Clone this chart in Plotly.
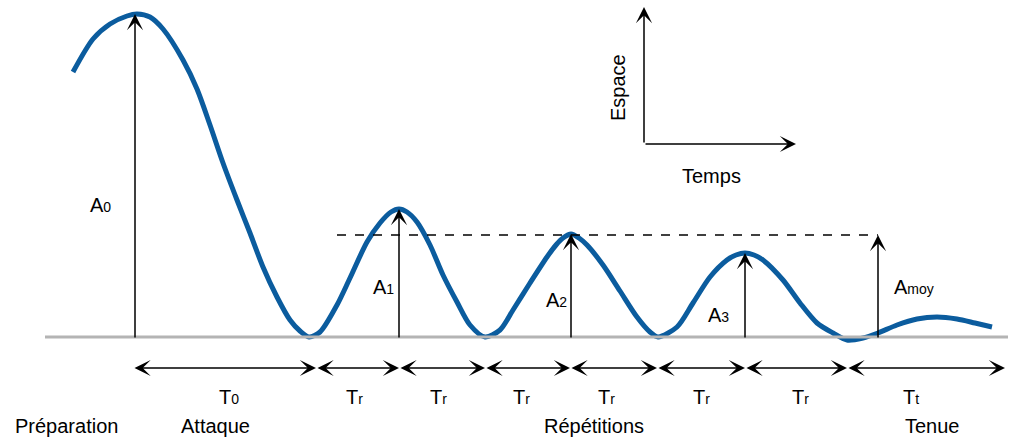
import plotly.graph_objects as go

# Courbe du geste : temps (px) / espace (px au-dessus de la ligne de repos)
t = [73, 93, 110, 127, 137, 150, 163, 183, 197, 210,
     223, 237, 250, 263, 277, 290, 300, 309, 320, 337,
     350, 367, 380, 391, 399, 407, 417, 430, 443, 457, 470, 485,
     500, 513, 530, 547, 556, 563, 571, 579, 587, 603, 620, 637,
     650, 658, 677, 693, 710, 727, 736, 745, 754, 763, 783, 800,
     817, 833, 847, 863, 878, 897, 917, 937, 957, 975, 992]
espace = [265, 298, 313, 321, 323, 320, 308, 277, 248, 212,
          174, 137, 104, 70, 40, 17, 6, 0, 5, 32,
          59, 95, 114, 125, 128, 125, 115, 92, 62, 35, 12, 0,
          7, 27, 54, 80, 92, 99, 103, 99, 92, 72, 46, 20,
          5, 0, 10, 34, 60, 77, 82, 84, 82, 77, 57, 34,
          14, 4, -3, -1, 4, 12, 18, 20, 18, 14, 10]

# Amplitudes
peak_t = [135, 399, 571, 745]
peak_a = [323, 128, 103, 84]
peak_names = [("A", "0"), ("A", "1"), ("A", "2"), ("A", "3")]
peak_label_pos = [(100, 132), (383, 50), (556, 37), (718, 22)]
moy_t = 878
moy_a = 102
moy_start = 337

# Durées
seg_edges = [133, 316, 399, 485, 570, 657, 745, 847, 1005]
seg_names = [("T", "0"), ("T", "r"), ("T", "r"), ("T", "r"), ("T", "r"),
             ("T", "r"), ("T", "r"), ("T", "t")]
seg_label_t = [229, 354, 438, 521, 606, 701, 800, 911]

# Phases
phases = ["Préparation", "Attaque", "Répétitions", "Tenue"]
phase_t = [66, 215, 594, 932]

font_family = "Liberation Sans, Arial, Helvetica, sans-serif"
big = 20
small = 14
line_y = -31


def sub(main, s):
    return f"{main}<span style='font-size:{small}px'>{s}</span>"


fig = go.Figure()

fig.add_trace(go.Scatter(
    x=t, y=espace, mode="lines", line_shape="spline",
    line=dict(color="#0b5c9e", width=5, smoothing=0.8), hoverinfo="skip"))

# ligne de repos
fig.add_trace(go.Scatter(
    x=[45, 1008], y=[0, 0], mode="lines",
    line=dict(color="#b4b4b4", width=3), hoverinfo="skip"))

shapes = [dict(type="line", x0=moy_start, x1=moy_t, y0=moy_a, y1=moy_a,
               line=dict(color="black", width=1.3, dash="dash"))]

ann = []


def arrow(x0, y0, x1, y1, both=False):
    ann.append(dict(x=x1, y=y1, ax=x0, ay=y0, xref="x", yref="y",
                    axref="x", ayref="y", text="", showarrow=True,
                    arrowhead=3, arrowsize=1.8, arrowwidth=1.5,
                    arrowcolor="black",
                    arrowside="end+start" if both else "end"))


def label(x, y, text, angle=0):
    ann.append(dict(x=x, y=y, xref="x", yref="y", text=text,
                    showarrow=False, textangle=angle,
                    font=dict(family=font_family, size=big, color="black")))


for pt, pa, nm, pos in zip(peak_t, peak_a, peak_names, peak_label_pos):
    arrow(pt, -2, pt, pa)
    label(pos[0], pos[1], sub(*nm))

arrow(moy_t, -2, moy_t, moy_a)
label(914, 50, sub("A", "moy"))

for i in range(len(seg_edges) - 1):
    arrow(seg_edges[i], line_y, seg_edges[i + 1], line_y, both=True)
    label(seg_label_t[i], -60, sub(*seg_names[i]))

for name, x in zip(phases, phase_t):
    label(x, -89, name)

# repère Espace / Temps
arrow(644, 193, 644, 330)
arrow(644, 193, 796, 193)
label(618, 249, "Espace", angle=-90)
label(711, 161, "Temps")

fig.update_layout(
    width=1011, height=443,
    margin=dict(l=0, r=0, t=0, b=0),
    paper_bgcolor="white", plot_bgcolor="white",
    showlegend=False,
    xaxis=dict(range=[0, 1011], visible=False, fixedrange=True),
    yaxis=dict(range=[-106, 337], visible=False, fixedrange=True),
    shapes=shapes, annotations=ann)

fig.write_html("out.html", config={"displayModeBar": False},
               post_script="document.body.style.margin='0';"
                           "document.body.style.overflow='hidden';")
